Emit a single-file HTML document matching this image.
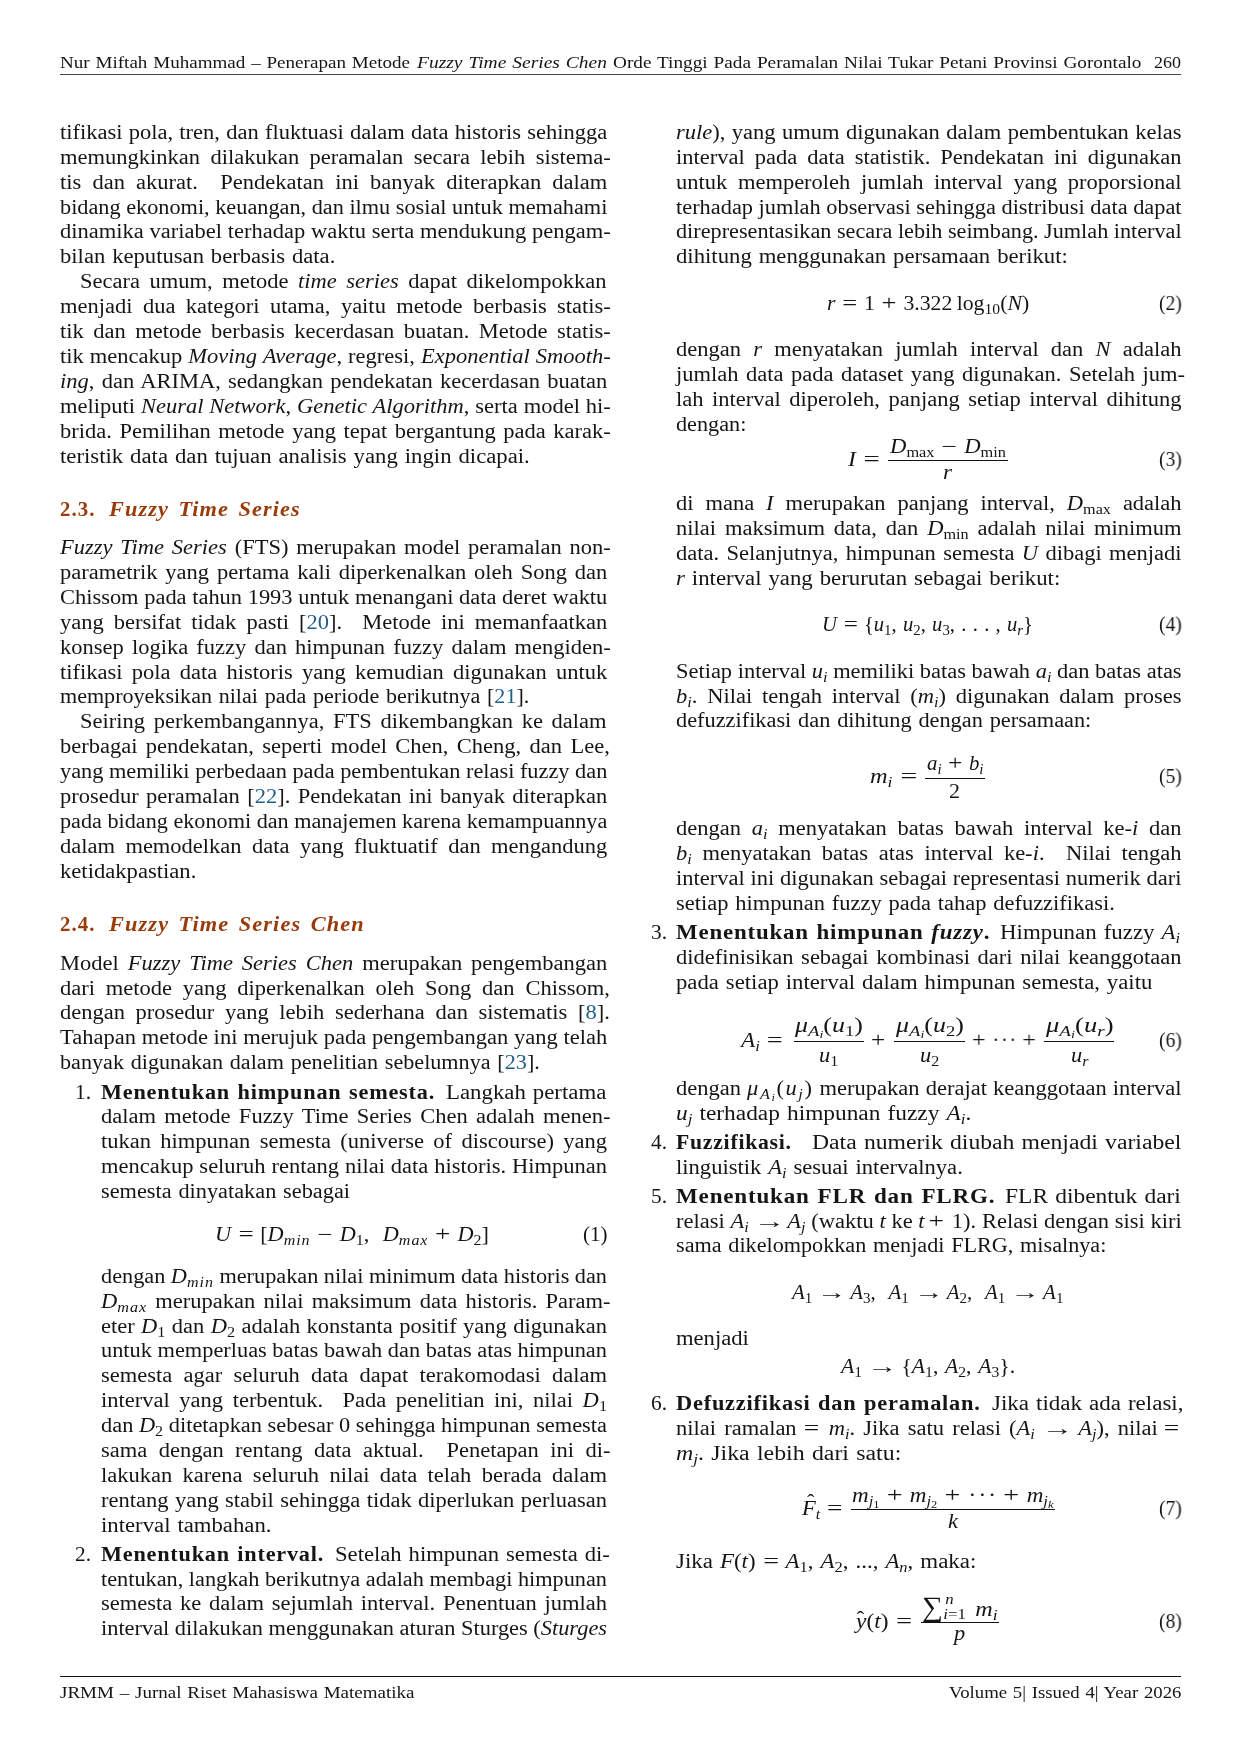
<!DOCTYPE html>
<html lang="id"><head><meta charset="utf-8"><title>JRMM</title>
<style>
html,body{margin:0;padding:0;background:#fff;}
body{width:1240px;height:1754px;position:relative;overflow:hidden;
 font-family:"Liberation Serif",serif;color:#151515;font-size:20.0px;}
.s{position:absolute;white-space:nowrap;line-height:24px;height:24px;transform-origin:0 50%;
 font-kerning:normal;word-spacing:.055em;will-change:transform;}
.j{text-align:justify;text-align-last:justify;word-spacing:0;}
.h{font-weight:bold;color:#993c0a;letter-spacing:.05em;word-spacing:.12em;}
b{letter-spacing:.035em;}
.c{color:#1f5f85;}
.sb{font-size:.72em;vertical-align:-.31em;line-height:0;}
.sb2{font-size:.75em;vertical-align:-.22em;line-height:0;}
.sp{font-size:.7em;vertical-align:.45em;line-height:0;}
.r{position:absolute;}
.sw{letter-spacing:.06em;}
.mw{letter-spacing:.07em;}
.op{display:inline-block;width:.7em;text-align:center;transform:scaleX(1.22);}
.ar{display:inline-block;width:1em;text-align:center;transform:scaleX(1.4);margin:0 .06em 0 .14em;}
.hat{position:relative;display:inline-block;}
.ht{position:absolute;left:.22em;top:-.30em;font-style:normal;}
.ht2{position:absolute;left:.02em;top:-.08em;font-style:normal;}
.sum{font-size:1.42em;line-height:0;vertical-align:.0em;display:inline-block;transform:scaleX(.86);transform-origin:0 50%;width:.62em;}
.cd{letter-spacing:.1em;margin:0 .22em 0 .34em;}
.lim{display:inline-block;position:relative;width:1.02em;height:1em;vertical-align:baseline;}
.lu{position:absolute;left:.12em;bottom:.66em;font-size:.7em;line-height:1;}
.ll{position:absolute;left:0;bottom:-.46em;font-size:.7em;line-height:1;}
</style></head>
<body>
<div class="s" style="font-size:17.2px;left:60.0px;top:50.7px;transform:scaleX(1.1095)">Nur Miftah Muhammad – Penerapan Metode</div>
<div class="s" style="font-size:17.2px;left:416.5px;top:50.7px;transform:scaleX(1.1340)"><i>Fuzzy Time Series Chen</i></div>
<div class="s" style="font-size:17.2px;left:612.5px;top:50.7px;transform:scaleX(1.1206)">Orde Tinggi Pada Peramalan Nilai Tukar Petani Provinsi Gorontalo</div>
<div class="s" style="font-size:17.2px;left:1154.0px;top:50.7px;transform:scaleX(1.0473)">260</div>
<div class="s" style="font-size:17.2px;left:60.0px;top:1680.5px;transform:scaleX(1.1068)">JRMM – Jurnal Riset Mahasiswa Matematika</div>
<div class="s" style="font-size:17.2px;left:948.5px;top:1680.5px;transform:scaleX(1.0928)">Volume 5| Issued 4| Year 2026</div>
<div class="s j" style="left:59.7px;top:119.8px;width:486.49px;transform:scaleX(1.1250)">tifikasi pola, tren, dan fluktuasi dalam data historis sehingga</div>
<div class="s j" style="left:59.7px;top:144.7px;width:489.60px;transform:scaleX(1.1250)">memungkinkan dilakukan peramalan secara lebih sistema-</div>
<div class="s j" style="left:59.7px;top:169.6px;width:486.49px;transform:scaleX(1.1250)">tis dan akurat.&nbsp; Pendekatan ini banyak diterapkan dalam</div>
<div class="s j" style="left:59.7px;top:194.5px;width:491.58px;transform:scaleX(1.1134)">bidang ekonomi, keuangan, dan ilmu sosial untuk memahami</div>
<div class="s j" style="left:59.7px;top:219.4px;width:489.60px;transform:scaleX(1.1250)">dinamika variabel terhadap waktu serta mendukung pengam-</div>
<div class="s" style="left:59.7px;top:244.3px;transform:scaleX(1.1318)">bilan keputusan berbasis data.</div>
<div class="s j" style="left:80.4px;top:269.2px;width:468.09px;transform:scaleX(1.1250)">Secara umum, metode <i>time series</i> dapat dikelompokkan</div>
<div class="s j" style="left:59.7px;top:294.1px;width:489.60px;transform:scaleX(1.1250)">menjadi dua kategori utama, yaitu metode berbasis statis-</div>
<div class="s j" style="left:59.7px;top:319.0px;width:489.60px;transform:scaleX(1.1250)">tik dan metode berbasis kecerdasan buatan. Metode statis-</div>
<div class="s j" style="left:59.7px;top:343.9px;width:489.60px;transform:scaleX(1.1250)">tik mencakup <i>Moving Average</i>, regresi, <i>Exponential Smooth-</i></div>
<div class="s j" style="left:59.7px;top:368.8px;width:486.49px;transform:scaleX(1.1250)"><i>ing</i>, dan ARIMA, sedangkan pendekatan kecerdasan buatan</div>
<div class="s j" style="left:59.7px;top:393.7px;width:489.60px;transform:scaleX(1.1250)">meliputi <i>Neural Network</i>, <i>Genetic Algorithm</i>, serta model hi-</div>
<div class="s j" style="left:59.7px;top:418.6px;width:489.60px;transform:scaleX(1.1250)">brida. Pemilihan metode yang tepat bergantung pada karak-</div>
<div class="s" style="left:59.7px;top:443.5px;transform:scaleX(1.1371)">teristik data dan tujuan analisis yang ingin dicapai.</div>
<div class="s h" style="left:60.0px;top:497.0px;transform:scaleX(1.0441)">2.3.</div>
<div class="s h" style="left:109.2px;top:497.0px;transform:scaleX(1.1140)"><i>Fuzzy Time Series</i></div>
<div class="s j" style="left:59.7px;top:535.0px;width:489.60px;transform:scaleX(1.1250)"><i>Fuzzy Time Series</i> (FTS) merupakan model peramalan non-</div>
<div class="s j" style="left:59.7px;top:559.9px;width:486.49px;transform:scaleX(1.1250)">parametrik yang pertama kali diperkenalkan oleh Song dan</div>
<div class="s j" style="left:59.7px;top:584.8px;width:487.67px;transform:scaleX(1.1223)">Chissom pada tahun 1993 untuk menangani data deret waktu</div>
<div class="s j" style="left:59.7px;top:609.7px;width:486.49px;transform:scaleX(1.1250)">yang bersifat tidak pasti [<span class="c">20</span>].&nbsp; Metode ini memanfaatkan</div>
<div class="s j" style="left:59.7px;top:634.6px;width:489.60px;transform:scaleX(1.1250)">konsep logika fuzzy dan himpunan fuzzy dalam mengiden-</div>
<div class="s j" style="left:59.7px;top:659.5px;width:486.49px;transform:scaleX(1.1250)">tifikasi pola data historis yang kemudian digunakan untuk</div>
<div class="s" style="left:59.7px;top:684.4px;transform:scaleX(1.1033)">memproyeksikan nilai pada periode berikutnya [<span class="c">21</span>].</div>
<div class="s j" style="left:80.4px;top:709.3px;width:468.09px;transform:scaleX(1.1250)">Seiring perkembangannya, FTS dikembangkan ke dalam</div>
<div class="s j" style="left:59.7px;top:734.2px;width:488.71px;transform:scaleX(1.1250)">berbagai pendekatan, seperti model Chen, Cheng, dan Lee,</div>
<div class="s j" style="left:59.7px;top:759.1px;width:490.38px;transform:scaleX(1.1161)">yang memiliki perbedaan pada pembentukan relasi fuzzy dan</div>
<div class="s j" style="left:59.7px;top:784.0px;width:486.49px;transform:scaleX(1.1250)">prosedur peramalan [<span class="c">22</span>]. Pendekatan ini banyak diterapkan</div>
<div class="s j" style="left:59.7px;top:808.9px;width:493.16px;transform:scaleX(1.1098)">pada bidang ekonomi dan manajemen karena kemampuannya</div>
<div class="s j" style="left:59.7px;top:833.8px;width:486.49px;transform:scaleX(1.1250)">dalam memodelkan data yang fluktuatif dan mengandung</div>
<div class="s" style="left:59.7px;top:858.7px;transform:scaleX(1.1308)">ketidakpastian.</div>
<div class="s h" style="left:60.0px;top:912.2px;transform:scaleX(1.0441)">2.4.</div>
<div class="s h" style="left:109.2px;top:912.2px;transform:scaleX(1.1168)"><i>Fuzzy Time Series Chen</i></div>
<div class="s j" style="left:59.7px;top:950.5px;width:486.49px;transform:scaleX(1.1250)">Model <i>Fuzzy Time Series Chen</i> merupakan pengembangan</div>
<div class="s j" style="left:59.7px;top:975.5px;width:488.71px;transform:scaleX(1.1250)">dari metode yang diperkenalkan oleh Song dan Chissom,</div>
<div class="s j" style="left:59.7px;top:1000.4px;width:488.71px;transform:scaleX(1.1250)">dengan prosedur yang lebih sederhana dan sistematis [<span class="c">8</span>].</div>
<div class="s j" style="left:59.7px;top:1025.3px;width:486.49px;transform:scaleX(1.1250)">Tahapan metode ini merujuk pada pengembangan yang telah</div>
<div class="s" style="left:59.7px;top:1050.2px;transform:scaleX(1.1077)">banyak digunakan dalam penelitian sebelumnya [<span class="c">23</span>].</div>
<div class="s" style="left:75.0px;top:1079.5px;transform:scaleX(1.0667)">1.</div>
<div class="s" style="left:101.0px;top:1079.5px;transform:scaleX(1.1126)"><b>Menentukan himpunan semesta.</b></div>
<div class="s" style="left:446.2px;top:1079.5px;transform:scaleX(1.1411)">Langkah pertama</div>
<div class="s j" style="left:101.0px;top:1104.4px;width:452.89px;transform:scaleX(1.1250)">dalam metode Fuzzy Time Series Chen adalah menen-</div>
<div class="s j" style="left:101.0px;top:1129.3px;width:449.78px;transform:scaleX(1.1250)">tukan himpunan semesta (universe of discourse) yang</div>
<div class="s j" style="left:101.0px;top:1154.2px;width:449.78px;transform:scaleX(1.1250)">mencakup seluruh rentang nilai data historis. Himpunan</div>
<div class="s" style="left:101.0px;top:1179.1px;transform:scaleX(1.1154)">semesta dinyatakan sebagai</div>
<div class="s m" style="left:215.0px;top:1221.5px;transform:scaleX(1.1110)"><i>U</i> <span class="op">=</span> [<i>D<span class="sb sw">min</span></i> <span class="op">−</span> <i>D</i><span class="sb">1</span>,&nbsp; <i>D<span class="sb sw">max</span></i> <span class="op">+</span> <i>D</i><span class="sb">2</span>]</div>
<div class="s" style="left:582.5px;top:1221.5px;transform:scaleX(1.0502)">(1)</div>
<div class="s j" style="left:101.0px;top:1263.7px;width:454.67px;transform:scaleX(1.1129)">dengan <i>D<span class="sb sw">min</span></i> merupakan nilai minimum data historis dan</div>
<div class="s j" style="left:101.0px;top:1288.6px;width:452.89px;transform:scaleX(1.1250)"><i>D<span class="sb sw">max</span></i> merupakan nilai maksimum data historis. Param-</div>
<div class="s j" style="left:101.0px;top:1313.5px;width:449.78px;transform:scaleX(1.1250)">eter <i>D</i><span class="sb">1</span> dan <i>D</i><span class="sb">2</span> adalah konstanta positif yang digunakan</div>
<div class="s j" style="left:101.0px;top:1338.4px;width:452.66px;transform:scaleX(1.1178)">untuk memperluas batas bawah dan batas atas himpunan</div>
<div class="s j" style="left:101.0px;top:1363.3px;width:449.78px;transform:scaleX(1.1250)">semesta agar seluruh data dapat terakomodasi dalam</div>
<div class="s j" style="left:101.0px;top:1388.2px;width:449.78px;transform:scaleX(1.1250)">interval yang terbentuk.&nbsp; Pada penelitian ini, nilai <i>D</i><span class="sb">1</span></div>
<div class="s j" style="left:101.0px;top:1413.1px;width:452.11px;transform:scaleX(1.1192)">dan <i>D</i><span class="sb">2</span> ditetapkan sebesar 0 sehingga himpunan semesta</div>
<div class="s j" style="left:101.0px;top:1438.0px;width:452.89px;transform:scaleX(1.1250)">sama dengan rentang data aktual.&nbsp; Penetapan ini di-</div>
<div class="s j" style="left:101.0px;top:1462.9px;width:449.78px;transform:scaleX(1.1250)">lakukan karena seluruh nilai data telah berada dalam</div>
<div class="s j" style="left:101.0px;top:1487.8px;width:449.78px;transform:scaleX(1.1250)">rentang yang stabil sehingga tidak diperlukan perluasan</div>
<div class="s" style="left:101.0px;top:1512.7px;transform:scaleX(1.1371)">interval tambahan.</div>
<div class="s" style="left:75.0px;top:1541.5px;transform:scaleX(1.0667)">2.</div>
<div class="s" style="left:101.0px;top:1541.5px;transform:scaleX(1.1113)"><b>Menentukan interval.</b></div>
<div class="s" style="left:335.2px;top:1541.5px;transform:scaleX(1.1323)">Setelah himpunan semesta di-</div>
<div class="s j" style="left:101.0px;top:1566.5px;width:454.31px;transform:scaleX(1.1138)">tentukan, langkah berikutnya adalah membagi himpunan</div>
<div class="s j" style="left:101.0px;top:1591.4px;width:449.78px;transform:scaleX(1.1250)">semesta ke dalam sejumlah interval. Penentuan jumlah</div>
<div class="s j" style="left:101.0px;top:1616.3px;width:452.69px;transform:scaleX(1.1178)">interval dilakukan menggunakan aturan Sturges (<i>Sturges</i></div>
<div class="s j" style="left:675.7px;top:119.8px;width:449.42px;transform:scaleX(1.1250)"><i>rule</i>), yang umum digunakan dalam pembentukan kelas</div>
<div class="s j" style="left:675.7px;top:144.7px;width:449.42px;transform:scaleX(1.1250)">interval pada data statistik. Pendekatan ini digunakan</div>
<div class="s j" style="left:675.7px;top:169.6px;width:449.42px;transform:scaleX(1.1250)">untuk memperoleh jumlah interval yang proporsional</div>
<div class="s j" style="left:675.7px;top:194.5px;width:452.11px;transform:scaleX(1.1183)">terhadap jumlah observasi sehingga distribusi data dapat</div>
<div class="s j" style="left:675.7px;top:219.4px;width:455.39px;transform:scaleX(1.1103)">direpresentasikan secara lebih seimbang. Jumlah interval</div>
<div class="s" style="left:675.7px;top:244.3px;transform:scaleX(1.1361)">dihitung menggunakan persamaan berikut:</div>
<div class="s m" style="left:826.8px;top:290.9px;transform:scaleX(1.0879)"><i>r</i> <span class="op">=</span> 1 <span class="op">+</span> 3.322&thinsp;log<span class="sb">10</span>(<i>N</i>)</div>
<div class="s" style="left:1158.6px;top:290.9px;transform:scaleX(0.9731)">(2)</div>
<div class="s j" style="left:675.7px;top:336.8px;width:449.42px;transform:scaleX(1.1250)">dengan <i>r</i> menyatakan jumlah interval dan <i>N</i> adalah</div>
<div class="s j" style="left:675.7px;top:361.7px;width:452.53px;transform:scaleX(1.1250)">jumlah data pada dataset yang digunakan. Setelah jum-</div>
<div class="s j" style="left:675.7px;top:386.6px;width:449.42px;transform:scaleX(1.1250)">lah interval diperoleh, panjang setiap interval dihitung</div>
<div class="s" style="left:675.7px;top:411.5px;transform:scaleX(1.1104)">dengan:</div>
<div class="s m" style="left:848.2px;top:447.2px;transform:scaleX(1.1874)"><i>I</i> <span class="op">=</span></div>
<div class="s m" style="left:890.0px;top:433.6px;transform:scaleX(1.1340)"><i>D</i><span class="sb">max</span> <span class="op">−</span> <i>D</i><span class="sb">min</span></div>
<div class="s m" style="left:942.5px;top:460.2px;transform:scaleX(1.1500)"><i>r</i></div>
<div class="s" style="left:1158.6px;top:447.2px;transform:scaleX(0.9731)">(3)</div>
<div class="s j" style="left:675.7px;top:491.1px;width:449.42px;transform:scaleX(1.1250)">di mana <i>I</i> merupakan panjang interval, <i>D</i><span class="sb">max</span> adalah</div>
<div class="s j" style="left:675.7px;top:516.0px;width:449.42px;transform:scaleX(1.1250)">nilai maksimum data, dan <i>D</i><span class="sb">min</span> adalah nilai minimum</div>
<div class="s j" style="left:675.7px;top:540.9px;width:449.42px;transform:scaleX(1.1250)">data. Selanjutnya, himpunan semesta <i>U</i> dibagi menjadi</div>
<div class="s" style="left:675.7px;top:565.8px;transform:scaleX(1.1401)"><i>r</i> interval yang berurutan sebagai berikut:</div>
<div class="s m" style="left:822.0px;top:611.8px;transform:scaleX(1.0302)"><i>U</i> <span class="op">=</span> {<i>u</i><span class="sb">1</span>, <i>u</i><span class="sb">2</span>, <i>u</i><span class="sb">3</span>, . . . , <i>u<span class="sb">r</span></i>}</div>
<div class="s" style="left:1158.6px;top:611.8px;transform:scaleX(0.9731)">(4)</div>
<div class="s j" style="left:675.7px;top:658.5px;width:450.67px;transform:scaleX(1.1219)">Setiap interval <i>u<span class="sb">i</span></i> memiliki batas bawah <i>a<span class="sb">i</span></i> dan batas atas</div>
<div class="s j" style="left:675.7px;top:683.5px;width:449.42px;transform:scaleX(1.1250)"><i>b<span class="sb">i</span></i>. Nilai tengah interval (<i>m<span class="sb">i</span></i>) digunakan dalam proses</div>
<div class="s" style="left:675.7px;top:708.4px;transform:scaleX(1.1163)">defuzzifikasi dan dihitung dengan persamaan:</div>
<div class="s m" style="left:870.0px;top:764.2px;transform:scaleX(1.2188)"><i>m<span class="sb">i</span></i> <span class="op">=</span></div>
<div class="s m" style="left:927.0px;top:751.0px;transform:scaleX(1.0421)"><i>a<span class="sb">i</span></i> <span class="op">+</span> <i>b<span class="sb">i</span></i></div>
<div class="s m" style="left:949.3px;top:778.6px;transform:scaleX(1.1000)">2</div>
<div class="s" style="left:1158.6px;top:764.2px;transform:scaleX(0.9731)">(5)</div>
<div class="s j" style="left:675.7px;top:816.0px;width:449.42px;transform:scaleX(1.1250)">dengan <i>a<span class="sb">i</span></i> menyatakan batas bawah interval ke-<i>i</i> dan</div>
<div class="s j" style="left:675.7px;top:841.0px;width:449.42px;transform:scaleX(1.1250)"><i>b<span class="sb">i</span></i> menyatakan batas atas interval ke-<i>i</i>.&nbsp; Nilai tengah</div>
<div class="s j" style="left:675.7px;top:865.9px;width:449.42px;transform:scaleX(1.1250)">interval ini digunakan sebagai representasi numerik dari</div>
<div class="s" style="left:675.7px;top:890.8px;transform:scaleX(1.1225)">setiap himpunan fuzzy pada tahap defuzzifikasi.</div>
<div class="s" style="left:650.5px;top:919.8px;transform:scaleX(1.0667)">3.</div>
<div class="s" style="left:675.7px;top:919.8px;transform:scaleX(1.1454)"><b>Menentukan himpunan <i>fuzzy</i>.</b></div>
<div class="s" style="left:1000.2px;top:919.8px;transform:scaleX(1.1451)">Himpunan fuzzy <i>A<span class="sb">i</span></i></div>
<div class="s j" style="left:675.7px;top:944.7px;width:449.42px;transform:scaleX(1.1250)">didefinisikan sebagai kombinasi dari nilai keanggotaan</div>
<div class="s" style="left:675.7px;top:969.6px;transform:scaleX(1.1361)">pada setiap interval dalam himpunan semesta, yaitu</div>
<div class="s m" style="left:741.3px;top:1027.8px;transform:scaleX(1.1616)"><i>A<span class="sb">i</span></i> <span class="op">=</span></div>
<div class="s m" style="left:795.0px;top:1013.2px;transform:scaleX(1.2979)"><i>μ</i><span class="sb"><i>A</i><span class="sb2"><i>i</i></span></span>(<i>u</i><span class="sb">1</span>)</div>
<div class="s m" style="left:819.1px;top:1043.2px;transform:scaleX(1.1200)"><i>u</i><span class="sb">1</span></div>
<div class="s m" style="left:871.0px;top:1027.8px;transform:scaleX(1.0357)"><span class="op">+</span></div>
<div class="s m" style="left:895.5px;top:1013.2px;transform:scaleX(1.2979)"><i>μ</i><span class="sb"><i>A</i><span class="sb2"><i>i</i></span></span>(<i>u</i><span class="sb">2</span>)</div>
<div class="s m" style="left:919.8px;top:1043.2px;transform:scaleX(1.1200)"><i>u</i><span class="sb">2</span></div>
<div class="s m" style="left:972.4px;top:1027.8px;transform:scaleX(0.9866)"><span class="op">+</span><span class="cd">···</span><span class="op">+</span></div>
<div class="s m" style="left:1045.5px;top:1013.2px;transform:scaleX(1.3288)"><i>μ</i><span class="sb"><i>A</i><span class="sb2"><i>i</i></span></span>(<i>u<span class="sb">r</span></i>)</div>
<div class="s m" style="left:1070.5px;top:1043.2px;transform:scaleX(1.1200)"><i>u<span class="sb">r</span></i></div>
<div class="s" style="left:1158.6px;top:1027.8px;transform:scaleX(0.9731)">(6)</div>
<div class="s j" style="left:675.7px;top:1076.2px;width:449.42px;transform:scaleX(1.1250)">dengan <span class="mw"><i>μ</i><span class="sb"><i>A</i><span class="sb2"><i>i</i></span></span>(<i>u<span class="sb">j</span></i>)</span> merupakan derajat keanggotaan interval</div>
<div class="s" style="left:675.7px;top:1101.2px;transform:scaleX(1.1678)"><i>u<span class="sb">j</span></i> terhadap himpunan fuzzy <i>A<span class="sb">i</span></i>.</div>
<div class="s" style="left:650.5px;top:1129.8px;transform:scaleX(1.0667)">4.</div>
<div class="s" style="left:675.7px;top:1129.8px;transform:scaleX(1.0849)"><b>Fuzzifikasi.</b></div>
<div class="s" style="left:812.0px;top:1129.8px;transform:scaleX(1.1834)">Data numerik diubah menjadi variabel</div>
<div class="s" style="left:675.7px;top:1154.8px;transform:scaleX(1.1294)">linguistik <i>A<span class="sb">i</span></i> sesuai intervalnya.</div>
<div class="s" style="left:650.5px;top:1183.5px;transform:scaleX(1.0667)">5.</div>
<div class="s" style="left:675.7px;top:1183.5px;transform:scaleX(1.1535)"><b>Menentukan FLR dan FLRG.</b></div>
<div class="s" style="left:1005.4px;top:1183.5px;transform:scaleX(1.1729)">FLR dibentuk dari</div>
<div class="s j" style="left:675.7px;top:1208.5px;width:449.42px;transform:scaleX(1.1250)">relasi <i>A<span class="sb">i</span></i> <span class="ar">→</span> <i>A<span class="sb">j</span></i> (waktu <i>t</i> ke <i>t</i> <span class="op">+</span> 1). Relasi dengan sisi kiri</div>
<div class="s" style="left:675.7px;top:1233.4px;transform:scaleX(1.1084)">sama dikelompokkan menjadi FLRG, misalnya:</div>
<div class="s m" style="left:792.4px;top:1279.8px;transform:scaleX(1.0457)"><i>A</i><span class="sb">1</span> <span class="ar">→</span> <i>A</i><span class="sb">3</span>,&nbsp; <i>A</i><span class="sb">1</span> <span class="ar">→</span> <i>A</i><span class="sb">2</span>,&nbsp; <i>A</i><span class="sb">1</span> <span class="ar">→</span> <i>A</i><span class="sb">1</span></div>
<div class="s" style="left:675.7px;top:1325.8px;transform:scaleX(1.1298)">menjadi</div>
<div class="s m" style="left:840.9px;top:1353.5px;transform:scaleX(1.0860)"><i>A</i><span class="sb">1</span> <span class="ar">→</span> {<i>A</i><span class="sb">1</span>, <i>A</i><span class="sb">2</span>, <i>A</i><span class="sb">3</span>}.</div>
<div class="s" style="left:650.5px;top:1390.8px;transform:scaleX(1.0667)">6.</div>
<div class="s" style="left:675.7px;top:1390.8px;transform:scaleX(1.1187)"><b>Defuzzifikasi dan peramalan.</b></div>
<div class="s" style="left:992.0px;top:1390.8px;transform:scaleX(1.1496)">Jika tidak ada relasi,</div>
<div class="s j" style="left:675.7px;top:1415.8px;width:449.42px;transform:scaleX(1.1250)">nilai ramalan <span class="op">=</span> <i>m<span class="sb">i</span></i>. Jika satu relasi (<i>A<span class="sb">i</span></i> <span class="ar">→</span> <i>A<span class="sb">j</span></i>), nilai <span class="op">=</span></div>
<div class="s" style="left:675.7px;top:1440.7px;transform:scaleX(1.1925)"><i>m<span class="sb">j</span></i>. Jika lebih dari satu:</div>
<div class="s m" style="left:801.6px;top:1496.0px;transform:scaleX(1.1258)"><span class="hat"><i>F</i><span class="ht">ˆ</span></span><span class="sb"><i>t</i></span> <span class="op">=</span></div>
<div class="s m" style="left:852.0px;top:1482.8px;transform:scaleX(1.1544)"><i>m</i><span class="sb"><i>j</i><span class="sb2">1</span></span> <span class="op">+</span> <i>m</i><span class="sb"><i>j</i><span class="sb2">2</span></span> <span class="op">+</span><span class="cd">···</span><span class="op">+</span> <i>m</i><span class="sb"><i>j</i><span class="sb2"><i>k</i></span></span></div>
<div class="s m" style="left:947.7px;top:1509.2px;transform:scaleX(1.1200)"><i>k</i></div>
<div class="s" style="left:1158.6px;top:1496.0px;transform:scaleX(0.9731)">(7)</div>
<div class="s" style="left:675.7px;top:1548.7px;transform:scaleX(1.1453)">Jika <i>F</i>(<i>t</i>) <span class="op">=</span> <i>A</i><span class="sb">1</span>, <i>A</i><span class="sb">2</span>, ..., <i>A<span class="sb">n</span></i>, maka:</div>
<div class="s m" style="left:856.0px;top:1609.0px;transform:scaleX(1.1693)"><span class="hat"><i>y</i><span class="ht2">ˆ</span></span>(<i>t</i>) <span class="op">=</span></div>
<div class="s m" style="left:922.0px;top:1596.2px;transform:scaleX(1.2071)"><span class="sum">∑</span><span class="lim"><span class="lu"><i>n</i></span><span class="ll"><i>i</i>=1</span></span> <i>m<span class="sb">i</span></i></div>
<div class="s m" style="left:953.7px;top:1620.5px;transform:scaleX(1.1200)"><i>p</i></div>
<div class="s" style="left:1158.6px;top:1609.0px;transform:scaleX(0.9731)">(8)</div>
<div class="r" style="left:60.0px;top:73.6px;width:1121.0px;height:1.3px;background:#444"></div>
<div class="r" style="left:60.0px;top:1676.0px;width:1121.0px;height:1.0px;background:#111"></div>
<div class="r" style="left:888.0px;top:460.4px;width:119.5px;height:1.0px;background:#111"></div>
<div class="r" style="left:925.1px;top:777.6px;width:59.8px;height:1.0px;background:#111"></div>
<div class="r" style="left:793.5px;top:1040.5px;width:70.5px;height:1.0px;background:#111"></div>
<div class="r" style="left:894.2px;top:1040.5px;width:70.5px;height:1.0px;background:#111"></div>
<div class="r" style="left:1044.4px;top:1040.5px;width:69.6px;height:1.0px;background:#111"></div>
<div class="r" style="left:850.5px;top:1508.5px;width:204.4px;height:1.0px;background:#111"></div>
<div class="r" style="left:920.6px;top:1622.0px;width:78.4px;height:1.0px;background:#111"></div>
</body></html>
